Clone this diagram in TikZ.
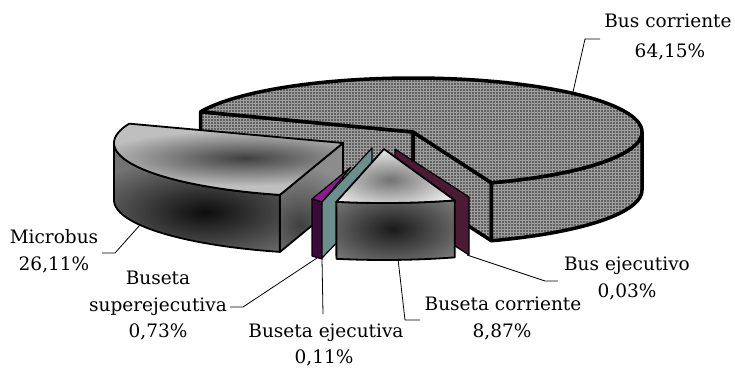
\documentclass[tikz,border=0pt]{standalone}
\usepackage{fontspec}
\setmainfont{DejaVu Serif}
\usetikzlibrary{patterns}
\definecolor{purfront}{HTML}{3A0A3A}
\definecolor{purtop}{HTML}{8B1A8B}
\definecolor{tealplate}{HTML}{6B8F8C}
\definecolor{maroonplate}{HTML}{4B1A33}
\tikzset{
  lbl/.style={font=\fontsize{18.5}{22}\selectfont, inner sep=0pt, anchor=base},
  leader/.style={draw=black, line width=0.8pt},
  bigedge/.style={draw=black, line width=3.5pt, line join=round},
  edge/.style={draw=black, line width=1.8pt, line join=round},
  texture/.style={preaction={fill=black!62}, pattern=grid, pattern color=black!38},
}
\begin{document}
\begin{tikzpicture}[x=1pt,y=-1pt]
\useasboundingbox (0,0) rectangle (735,367);
% ---------------- Bus corriente (big slice) ----------------
\coordinate (bc) at (413,132);
\path[texture,bigedge] (bc) -- (200.7,111.8) -- (200.7,169.8) -- (413,190) -- cycle;
\path[texture,bigedge] (bc) -- (491.3,182.7) -- (491.3,240.7) -- (413,190) -- cycle;
\path[texture,bigedge] plot[domain=-70:0,samples=40] ({413+229*cos(\x)},{132-54*sin(\x)})
  -- plot[domain=0:-70,samples=40] ({413+229*cos(\x)},{190-54*sin(\x)}) -- cycle;
\path[texture,bigedge] (bc) -- plot[domain=-70:158,samples=120] ({413+229*cos(\x)},{132-54*sin(\x)}) -- cycle;
% ---------------- Microbus ----------------
\coordinate (mc) at (343,143);
\begin{scope}
\clip plot[domain=180:254,samples=40] ({343+229*cos(\x)},{143-54*sin(\x)})
  -- plot[domain=254:180,samples=40] ({343+229*cos(\x)},{200-54*sin(\x)}) -- cycle;
\fill[black!55] (100,130) rectangle (350,260);
\shade[inner color=black!95, outer color=black!55] (205,212) ellipse [x radius=130, y radius=55];
\end{scope}
\path[edge] plot[domain=180:254,samples=40] ({343+229*cos(\x)},{143-54*sin(\x)})
  -- plot[domain=254:180,samples=40] ({343+229*cos(\x)},{200-54*sin(\x)}) -- cycle;
\begin{scope}
\clip (mc) -- (279.9,194.9) -- (279.9,252) -- (343,200) -- cycle;
\fill[black!45] (270,140) rectangle (350,260);
\shade[inner color=black!75, outer color=black!45] (300,225) ellipse [x radius=60, y radius=60];
\end{scope}
\path[edge] (mc) -- (279.9,194.9) -- (279.9,252) -- (343,200) -- cycle;
\begin{scope}
\clip (mc) -- plot[domain=159:254,samples=60] ({343+229*cos(\x)},{143-54*sin(\x)}) -- cycle;
\fill[black!25] (100,110) rectangle (350,200);
\shade[inner color=black!75, outer color=black!25] (245,158) ellipse [x radius=150, y radius=28];
\end{scope}
\path[edge] (mc) -- plot[domain=159:254,samples=60] ({343+229*cos(\x)},{143-54*sin(\x)}) -- cycle;
% ---------------- Bus ejecutivo (maroon plate) ----------------
\path[fill=maroonplate, edge, line width=1.2pt] (395,149) -- (469,197) -- (469,255) -- (395,207) -- cycle;
% ---------------- Buseta superejecutiva (purple) ----------------
\path[fill=purtop, edge, line width=1.2pt] (312,199) -- (351,167) -- (322,202) -- cycle;
\path[fill=purfront, edge, line width=1.2pt] (312,199) -- (322,202) -- (322,259) -- (312,256) -- cycle;
% ---------------- Buseta ejecutiva (teal) ----------------
\path[fill=tealplate, edge, line width=1.2pt] (322,202) -- (372,148) -- (372,206) -- (322,258) -- cycle;
% ---------------- Buseta corriente ----------------
\coordinate (cc) at (384,149);
\begin{scope}
\clip plot[domain=258:288,samples=30] ({384+229*cos(\x)},{149-54*sin(\x)})
  -- plot[domain=288:258,samples=30] ({384+229*cos(\x)},{206-54*sin(\x)}) -- cycle;
\fill[black!45] (320,190) rectangle (470,270);
\shade[inner color=black!90, outer color=black!45] (393,229) ellipse [x radius=95, y radius=50];
\end{scope}
\path[edge] plot[domain=258:288,samples=30] ({384+229*cos(\x)},{149-54*sin(\x)})
  -- plot[domain=288:258,samples=30] ({384+229*cos(\x)},{206-54*sin(\x)}) -- cycle;
\begin{scope}
\clip (cc) -- plot[domain=258:288,samples=30] ({384+229*cos(\x)},{149-54*sin(\x)}) -- cycle;
\fill[white] (320,140) rectangle (470,210);
\shade[inner color=black!55, outer color=white] (390,180) ellipse [x radius=80, y radius=36];
\end{scope}
\path[edge] (cc) -- plot[domain=258:288,samples=30] ({384+229*cos(\x)},{149-54*sin(\x)}) -- cycle;
% ---------------- Labels ----------------
\node[lbl] (t1a) at (668,27) {Bus corriente};
\node[lbl] (t1b) at (670,57) {64,15\%};
\node[lbl] (t2a) at (54,243) {Microbus};
\node[lbl] (t2b) at (54,270) {26,11\%};
\node[lbl] (t3a) at (158,284) {Buseta};
\node[lbl] (t3b) at (158,311) {superejecutiva};
\node[lbl] (t3c) at (158,337) {0,73\%};
\node[lbl] (t4a) at (326,337) {Buseta ejecutiva};
\node[lbl] (t4b) at (324,363) {0,11\%};
\node[lbl] (t5a) at (503,310) {Buseta corriente};
\node[lbl] (t5b) at (502,337) {8,87\%};
\node[lbl] (t6a) at (627,270) {Bus ejecutivo};
\node[lbl] (t6b) at (627,297) {0,03\%};
% ---------------- Leaders ----------------
\coordinate (p1) at (573,92); \coordinate (k1) at (585,39); \coordinate (e1) at (600,39);
\coordinate (p2) at (140,225); \coordinate (k2) at (115,253); \coordinate (e2) at (102,253);
\coordinate (p3) at (317,258); \coordinate (k3) at (243,307); \coordinate (e3) at (230,307);
\coordinate (p4) at (322,259); \coordinate (e4) at (323,314);
\coordinate (p5) at (398,259); \coordinate (k5) at (405,320); \coordinate (e5) at (420,320);
\coordinate (p6) at (467,255); \coordinate (k6) at (545,281); \coordinate (e6) at (558,281);
\draw[leader] (p1) -- (k1) -- (e1);
\draw[leader] (p2) -- (k2) -- (e2);
\draw[leader] (p3) -- (k3) -- (e3);
\draw[leader] (p4) -- (e4);
\draw[leader] (p5) -- (k5) -- (e5);
\draw[leader] (p6) -- (k6) -- (e6);
\end{tikzpicture}
\end{document}
